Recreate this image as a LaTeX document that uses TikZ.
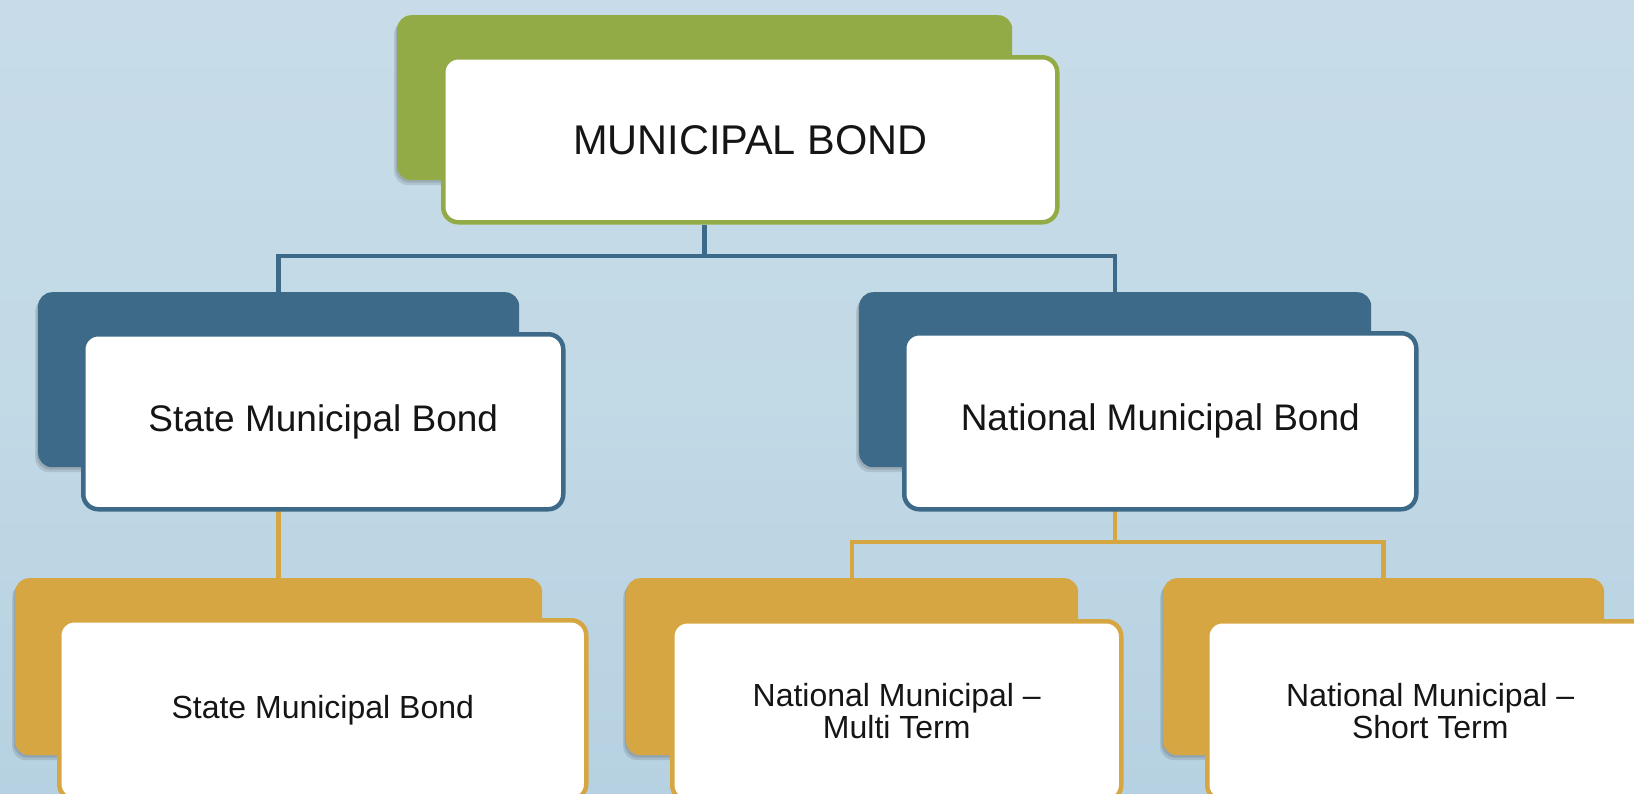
\documentclass[tikz,border=0pt]{standalone}
\usepackage{fontspec}
\setmainfont{Liberation Sans}
\usetikzlibrary{shadows}
\definecolor{cgreen}{HTML}{93AB47}
\definecolor{cblue}{HTML}{3D6A88}
\definecolor{cgold}{HTML}{D6A643}
\definecolor{bgtop}{HTML}{C7DCE8}
\definecolor{bgmid}{HTML}{C2D9E6}
\definecolor{bgbot}{HTML}{B6D1E1}
\definecolor{txt}{HTML}{151515}
\pgfdeclarelayer{bgfill}
\pgfdeclarelayer{conns}
\pgfsetlayers{bgfill,conns,main}
\begin{document}
\begin{tikzpicture}[x=1pt,y=-1pt,
  back/.style={rectangle, rounded corners=14pt, anchor=north west, inner sep=0pt,
    fill=#1, draw=none,
    general shadow={fill=black, opacity=0.10, shadow xshift=-3pt, shadow yshift=-5pt},
    general shadow={fill=black, opacity=0.12, shadow xshift=-1.5pt, shadow yshift=-2.5pt}},
  front/.style={rectangle, rounded corners=15pt, anchor=north west, inner sep=0pt,
    fill=white, draw=#1, line width=4.5pt, text=txt, align=center},
  conn/.style={draw=#1, line width=4.5pt},
  ftop/.style={font=\fontsize{41.5}{48}\selectfont},
  fmid/.style={font=\fontsize{37}{42}\selectfont},
  flow/.style={font=\fontsize{32}{32}\selectfont},
]
\useasboundingbox (0,0) rectangle (1634,793);
\begin{pgfonlayer}{bgfill}
  \fill[bgmid] (0,0) rectangle (1634,793);
  \shade[top color=bgtop, bottom color=bgmid] (0,0) rectangle (1634,400);
  \shade[top color=bgmid, bottom color=bgbot] (0,400) rectangle (1634,793);
\end{pgfonlayer}

% level 1
\node[back=cgreen, minimum width=615pt, minimum height=165pt] (tb) at (397,15) {};
\node[front=cgreen, minimum width=614pt, minimum height=165pt, ftop] (tf) at (441,55) {MUNICIPAL BOND};

% level 2
\node[back=cblue, minimum width=481pt, minimum height=175pt] (lb) at (38,292) {};
\node[front=cblue, minimum width=480pt, minimum height=175pt, fmid] (lf) at (81,332) {State Municipal Bond};
\node[back=cblue, minimum width=512pt, minimum height=175pt] (rb) at (859,292) {};
\node[front=cblue, minimum width=512pt, minimum height=176pt, fmid] (rf) at (902,331) {National Municipal Bond};

% level 3
\node[back=cgold, minimum width=527pt, minimum height=177pt] (llb) at (15,578) {};
\node[front=cgold, minimum width=527pt, minimum height=179pt, flow] (llf) at (57,618) {State Municipal Bond};
\node[back=cgold, minimum width=452pt, minimum height=177pt] (mb) at (626,578) {};
\node[front=cgold, minimum width=449pt, minimum height=179pt, flow] (mf) at (670,619) {National Municipal –\\Multi Term};
\node[back=cgold, minimum width=441pt, minimum height=177pt] (rrb) at (1163,578) {};
\node[front=cgold, minimum width=446pt, minimum height=179pt, flow] (rrf) at (1205,619) {National Municipal –\\Short Term};

\coordinate (bus1) at (0,256);
\coordinate (bus2) at (0,542);

\begin{pgfonlayer}{conns}
  \draw[conn=cblue] (tb.south |- tf.south) -- (tb.south |- bus1);
  \draw[conn=cblue] (lb.north) |- (tb.south |- bus1) -| (rb.north);
  \draw[conn=cgold] (lb.south) -- (llb.north);
  \draw[conn=cgold] (rb.south) -- (rb.south |- bus2);
  \draw[conn=cgold] (mb.north) |- (rb.south |- bus2) -| (rrb.north);
\end{pgfonlayer}
\end{tikzpicture}
\end{document}
